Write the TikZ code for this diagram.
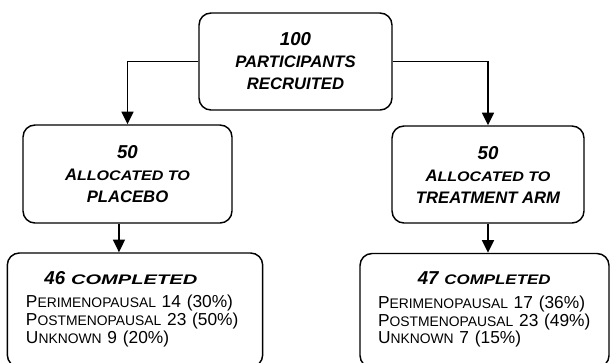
\documentclass[tikz,border=0pt]{standalone}
\usepackage{fontspec}
\setmainfont{Liberation Sans}
\usetikzlibrary{arrows.meta,positioning,calc}
\newcommand\smcap[2][1]{{\fontsize{10.4}{10.4}\selectfont\addfontfeature{FakeStretch=#1}#2}}
\newcommand\bignum[1]{{\fontsize{14}{14}\selectfont#1}}
\begin{document}
\begin{tikzpicture}[x=0.75pt,y=-0.75pt,line width=1.1pt,
stage/.style={draw,rounded corners=9pt,align=center,inner sep=0pt,font=\fontsize{12.5}{16.5}\selectfont\bfseries\itshape},
result/.style={draw,rounded corners=9pt,align=left,inner xsep=14pt,inner ysep=0pt,minimum height=85.5pt,font=\fontsize{13}{13.1}\selectfont},
arr/.style={-{Triangle[width=9pt,length=9.5pt]}}]
\useasboundingbox (0,0) rectangle (611,362);
\begin{scope}
\node[stage,minimum width=144.75pt,minimum height=72.75pt] (recruit) at (295.5,61.5) {\bignum{100}\\PARTICIPANTS\\RECRUITED};
\node[stage,minimum width=156.75pt,minimum height=73.5pt] (placebo) at (127.5,174) {\bignum{50}\\A\smcap[1.16]{LLOCATED TO}\\PLACEBO};
\node[stage,minimum width=144pt,minimum height=72.75pt] (treat) at (488,174.5) {\bignum{50}\\A\smcap[1.16]{LLOCATED TO}\\TREATMENT ARM};
\node[result,text width=163.5pt] (donePlacebo) at (135,310) {\begin{tabular}{@{}l@{}}
\multicolumn{1}{@{}c@{}}{\hspace*{-17pt}\bfseries\itshape\bignum{46} \smcap[1.45]{COMPLETED}}\\[4.4pt]
P\smcap{ERIMENOPAUSAL} 14 (30\%)\\
P\smcap{OSTMENOPAUSAL} 23 (50\%)\\
U\smcap{NKNOWN} 9 (20\%)
\end{tabular}};
\node[result,inner xsep=13.5pt,text width=159.75pt] (doneTreat) at (484.5,310.5) {\begin{tabular}{@{}l@{}}
\multicolumn{1}{@{}c@{}}{\bfseries\itshape\bignum{47} \smcap[1.22]{COMPLETED}}\\[4.4pt]
P\smcap{ERIMENOPAUSAL} 17 (36\%)\\
P\smcap{OSTMENOPAUSAL} 23 (49\%)\\
U\smcap{NKNOWN} 7 (15\%)
\end{tabular}};
\end{scope}
\begin{scope}
\draw[arr] (recruit) -| (placebo);
\draw[arr] (recruit) -| (treat);
\draw[arr] ([xshift=-6.4pt]placebo.south) -- ([xshift=-6.4pt]placebo.south |- donePlacebo.north);
\draw[arr] (treat.south) -- (treat.south |- doneTreat.north);
\end{scope}
\end{tikzpicture}
\end{document}
